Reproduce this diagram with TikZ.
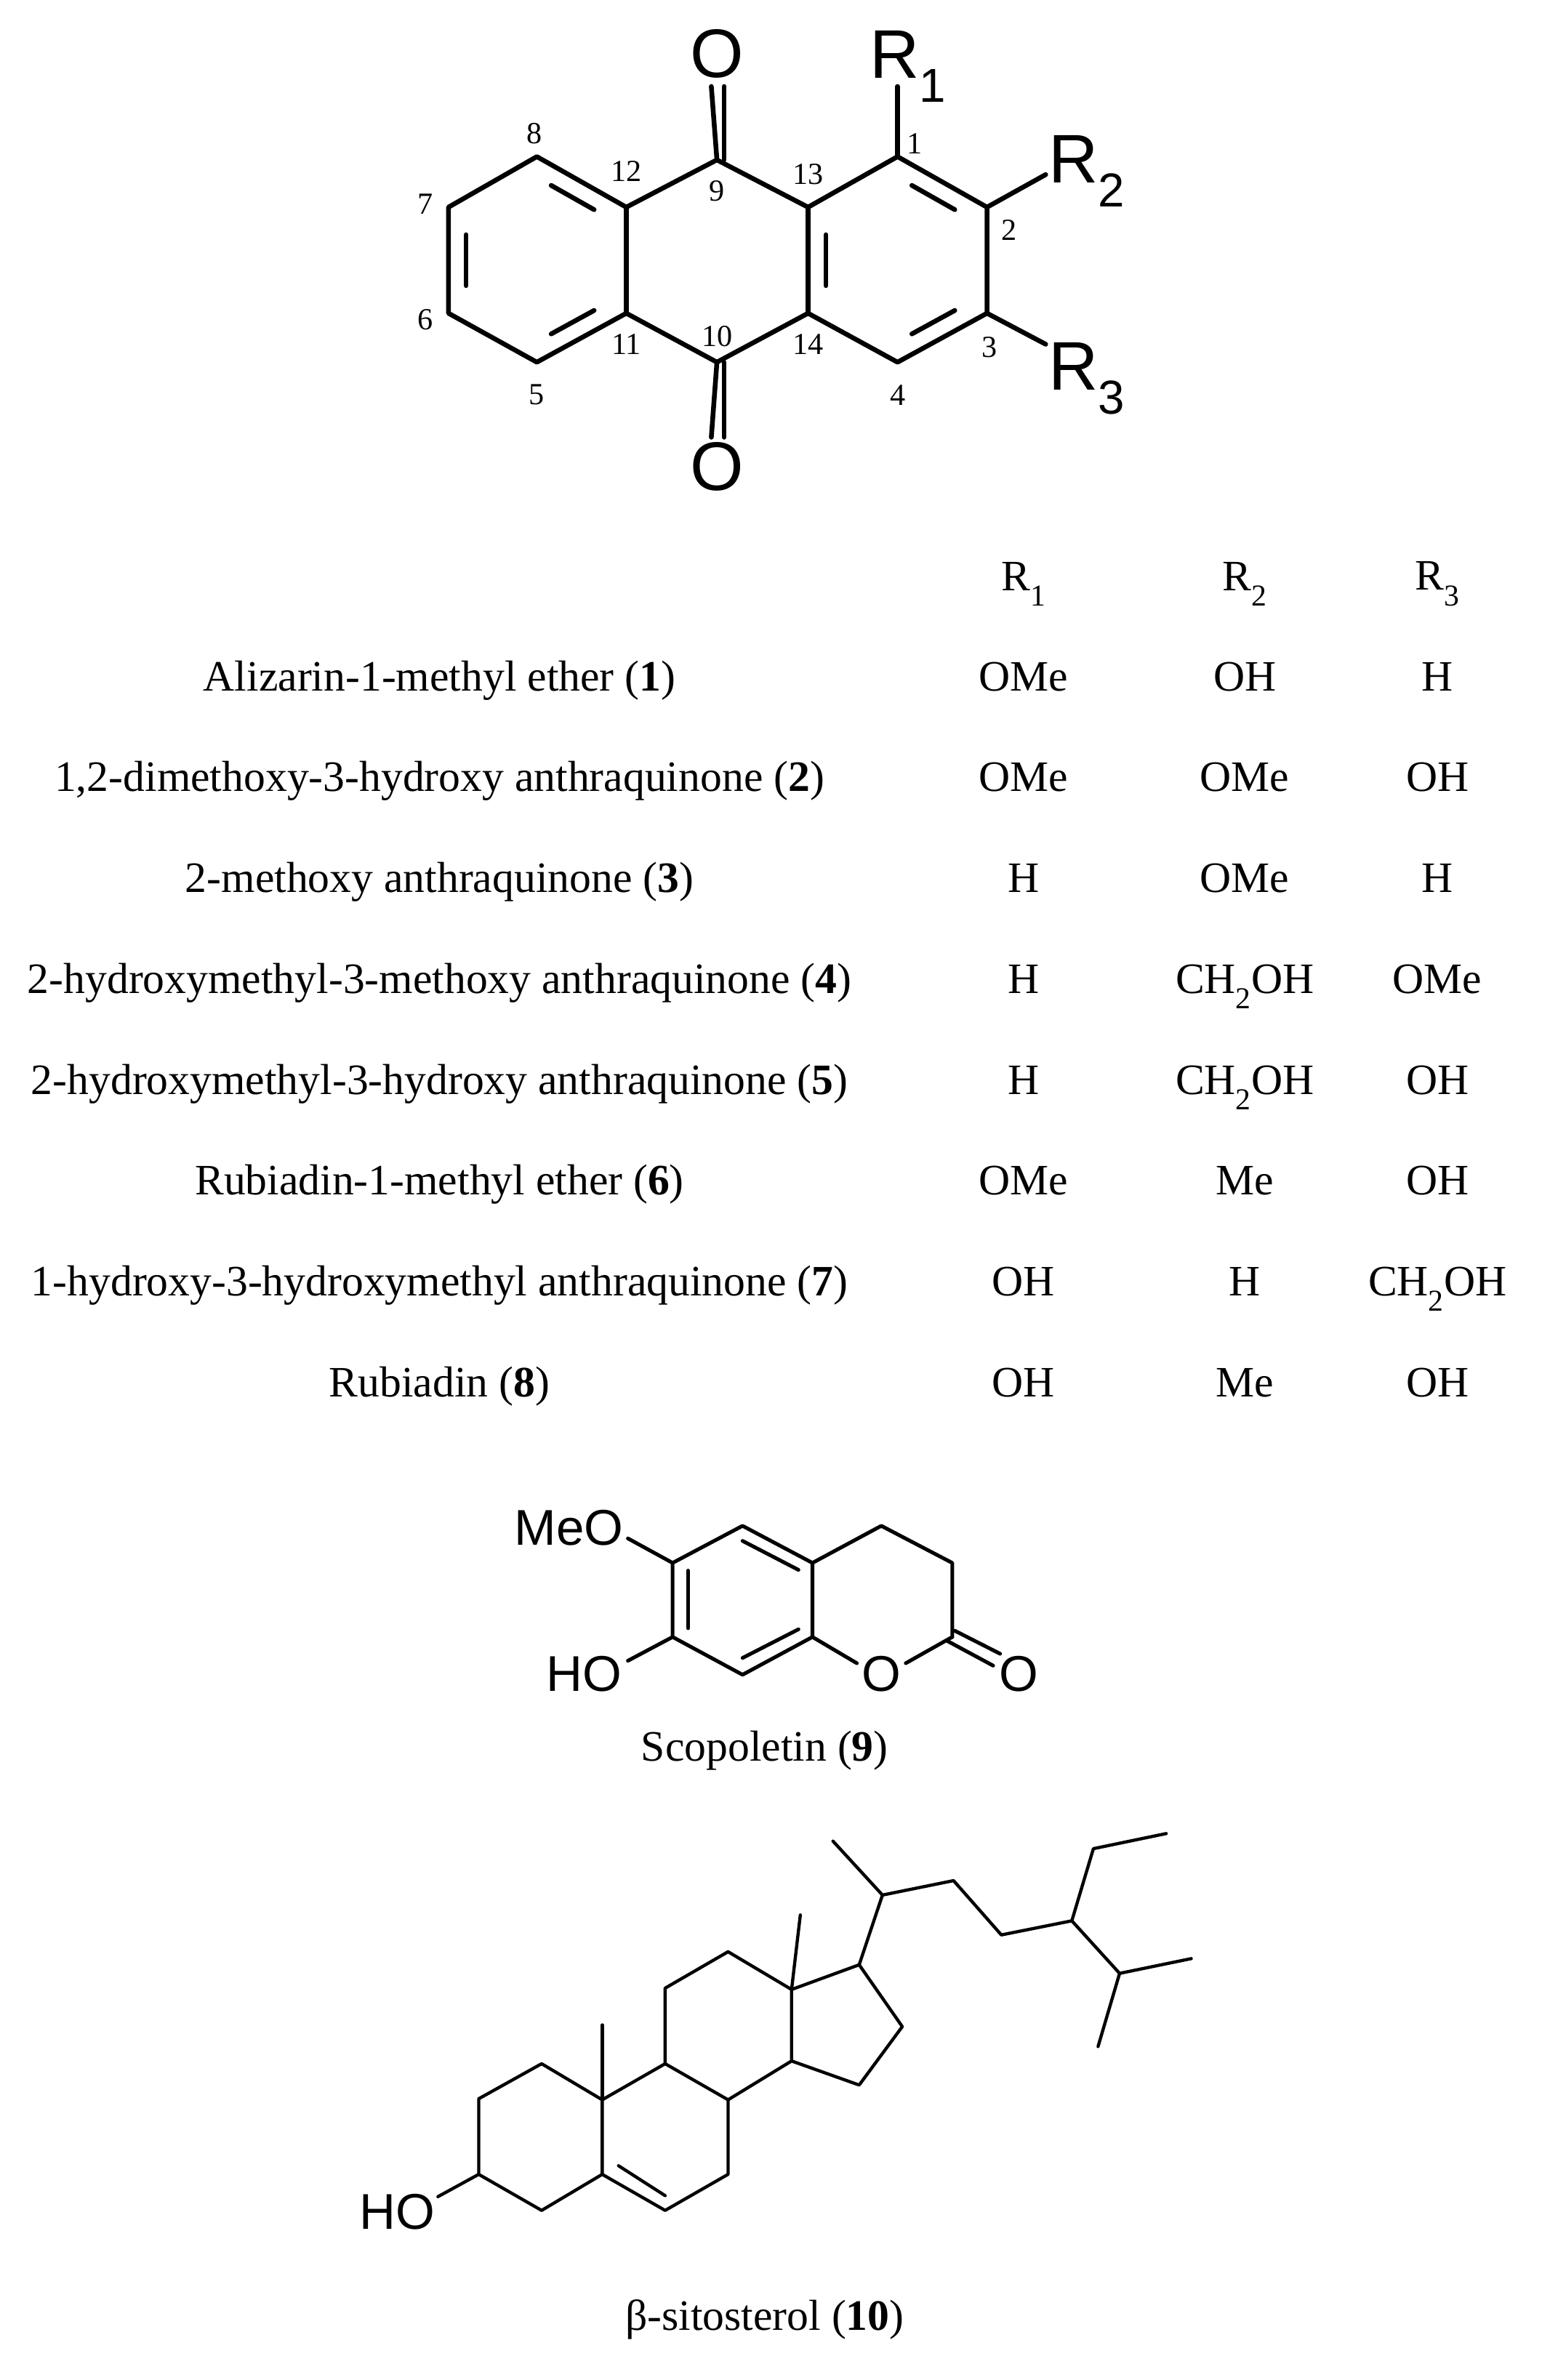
\documentclass[tikz,border=0pt]{standalone}
\usepackage{fontspec}
\setmainfont{Liberation Serif}
\newfontfamily\arial{Liberation Sans}
\usetikzlibrary{calc}
\tikzset{
 bond/.style={line width=9pt, line cap=round, line join=round},
 sbond/.style={line width=7pt, line cap=round, line join=round},
 tbond/.style={line width=6pt, line cap=round, line join=round},
 atom/.style={font=\arial\fontsize{130}{130}\selectfont, inner sep=0pt},
 satom/.style={font=\arial\fontsize{95}{95}\selectfont, inner sep=0pt},
 hatom/.style={font=\arial\fontsize{95}{95}\selectfont, inner sep=0pt},
 num/.style={font=\fontsize{58}{58}\selectfont, inner sep=0pt},
 txt/.style={font=\fontsize{82}{86}\selectfont, inner sep=0pt},
}
\newcommand{\dbond}[4][bond]{\draw[#1] ($(#2)!0.2!(#3)!0.2!(#4)$) -- ($(#3)!0.2!(#2)!0.2!(#4)$);}
\begin{document}
\begin{tikzpicture}[x=0.1cm,y=-0.1cm]
\useasboundingbox[fill=white] (0,0) rectangle (1024,1581.4);
% ---------- anthraquinone ----------
\begin{scope}[shift={(241.5,0)}, x=0.03715cm, y=-0.02168cm]
\coordinate (c8) at (310,480); \coordinate (c12) at (470,635); \coordinate (c9) at (632,490);
\coordinate (c13) at (795,635); \coordinate (c1) at (955,480); \coordinate (c2) at (1115,635);
\coordinate (c3) at (1115,960); \coordinate (c4) at (955,1110); \coordinate (c14) at (795,960);
\coordinate (c10) at (632,1110); \coordinate (c11) at (470,960); \coordinate (c5) at (310,1110);
\coordinate (c6) at (152,960); \coordinate (c7) at (152,635);
\coordinate (ml) at (310,797); \coordinate (mm) at (632,797); \coordinate (mr) at (955,797);
\draw[bond] (c8)--(c12)--(c9)--(c13)--(c1)--(c2)--(c3)--(c4)--(c14)--(c10)--(c11)--(c5)--(c6)--(c7)--cycle;
\draw[bond] (c12)--(c11); \draw[bond] (c13)--(c14);
\dbond{c8}{c12}{ml} \dbond{c7}{c6}{ml} \dbond{c5}{c11}{ml}
\dbond{c13}{c14}{mr} \dbond{c1}{c2}{mr} \dbond{c3}{c4}{mr}
\draw[bond] (c9) -- (622,265); \draw[bond] (645,490) -- (645,265);
\draw[bond] (c10) -- (622,1340); \draw[bond] (645,1110) -- (645,1340);
\coordinate (r1e) at (955,265); \coordinate (r2e) at (1220,535); \coordinate (r3e) at (1220,1055);
\draw[bond] (c1)--(r1e); \draw[bond] (c2)--(r2e); \draw[bond] (c3)--(r3e);
\node[atom] (o9) at (632,165) {O};
\node[atom] (o10) at (632,1430) {O};
\node[atom, anchor=base west] (r1) at (905,240) {R\raisebox{-0.35em}{\fontsize{90}{90}\selectfont 1}};
\node[atom, anchor=base west] (r2) at (1225,560) {R\raisebox{-0.35em}{\fontsize{90}{90}\selectfont 2}};
\node[atom, anchor=base west] (r3) at (1225,1195) {R\raisebox{-0.35em}{\fontsize{90}{90}\selectfont 3}};
\node[num] (n8) at (305,410) {8}; \node[num] (n12) at (470,525) {12}; \node[num] (n9) at (632,585) {9};
\node[num] (n13) at (795,535) {13}; \node[num] (n1) at (985,440) {1}; \node[num] (n7) at (110,625) {7};
\node[num] (n2) at (1155,705) {2}; \node[num] (n6) at (110,980) {6}; \node[num] (n11) at (470,1055) {11};
\node[num] (n10) at (632,1030) {10}; \node[num] (n14) at (795,1055) {14}; \node[num] (n3) at (1120,1065) {3};
\node[num] (n5) at (310,1210) {5}; \node[num] (n4) at (955,1210) {4};
\end{scope}
% ---------- table ----------
\node[txt] (h1) at (680,388) {R\textsubscript{1}};
\node[txt] (h2) at (827,388) {R\textsubscript{2}};
\node[txt] (h3) at (955,388) {R\textsubscript{3}};
\foreach \y/\n/\a/\b/\c [count=\i] in {
452/{Alizarin-1-methyl ether (\textbf{1})}/OMe/OH/H,
519/{1,2-dimethoxy-3-hydroxy anthraquinone (\textbf{2})}/OMe/OMe/OH,
586/{2-methoxy anthraquinone (\textbf{3})}/H/OMe/H,
653/{2-hydroxymethyl-3-methoxy anthraquinone (\textbf{4})}/H/{CH\textsubscript{2}OH}/OMe,
720/{2-hydroxymethyl-3-hydroxy anthraquinone (\textbf{5})}/H/{CH\textsubscript{2}OH}/OH,
787/{Rubiadin-1-methyl ether (\textbf{6})}/OMe/Me/OH,
854/{1-hydroxy-3-hydroxymethyl anthraquinone (\textbf{7})}/OH/H/{CH\textsubscript{2}OH},
921/{Rubiadin (\textbf{8})}/OH/Me/OH}{
 \node[txt, anchor=base] (name\i) at (292,\y+7) {\n};
 \node[txt, anchor=base] (va\i) at (680,\y+7) {\a};
 \node[txt, anchor=base] (vb\i) at (827,\y+7) {\b};
 \node[txt, anchor=base] (vc\i) at (955,\y+7) {\c};
}
% ---------- scopoletin ----------
\begin{scope}[shift={(338.2,953)}, x=0.02323cm, y=-0.02323cm]
\coordinate (sa) at (668,262); \coordinate (sb) at (868,368); \coordinate (sc) at (868,580);
\coordinate (sd) at (668,688); \coordinate (se) at (468,580); \coordinate (sf) at (468,368);
\coordinate (sg) at (1065,262); \coordinate (sh) at (1268,368); \coordinate (si) at (1268,580);
\draw[sbond] (sa)--(sb)--(sc)--(sd)--(se)--(sf)--cycle;
\draw[sbond] (sb)--(sg)--(sh)--(si);
\draw[sbond] (668,305)--(828,388); \draw[sbond] (668,640)--(828,558); \draw[sbond] (512,390)--(512,555);
\node[satom, anchor=east] (meo) at (328,268) {MeO};
\node[satom] (ho) at (215,685) {HO};
\node[satom] (ro) at (1065,685) {O};
\node[satom] (co) at (1458,685) {O};
\draw[sbond] (sf)--(340,298); \draw[sbond] (se)--(340,648);
\draw[sbond] (sc)--(995,655); \draw[sbond] (1135,655)--(si);
\draw[sbond] (1255,592)--(1385,662); \draw[sbond] (1275,562)--(1405,628);
\end{scope}
\node[txt] (scl) at (508,1163) {Scopoletin (\textbf{9})};
% ---------- sitosterol ----------
\begin{scope}[shift={(217.4,1148)}, x=0.03871cm, y=-0.02283cm]
\coordinate (a1) at (260,1080); \coordinate (a2) at (368,978); \coordinate (c10s) at (472,1083);
\coordinate (c5s) at (472,1300); \coordinate (a5) at (368,1405); \coordinate (c3s) at (260,1300);
\coordinate (c9s) at (580,978); \coordinate (c8s) at (688,1083); \coordinate (c7s) at (688,1300);
\coordinate (c6s) at (580,1405); \coordinate (c11s) at (580,758); \coordinate (c12s) at (688,652);
\coordinate (c13s) at (797,762); \coordinate (c14s) at (797,970); \coordinate (c17) at (913,690);
\coordinate (c16) at (987,870); \coordinate (c15) at (913,1040);
\coordinate (c20) at (953,487); \coordinate (c21) at (868,330); \coordinate (c22) at (1075,445);
\coordinate (c23) at (1157,603); \coordinate (c24) at (1278,562); \coordinate (c28) at (1315,352);
\coordinate (c29) at (1440,308); \coordinate (c25) at (1360,715); \coordinate (c26) at (1483,672);
\coordinate (c27) at (1323,928); \coordinate (m19) at (472,865); \coordinate (m18) at (812,545);
\coordinate (hoe) at (190,1365);
\draw[tbond] (a1)--(a2)--(c10s)--(c5s)--(a5)--(c3s)--cycle;
\draw[tbond] (c10s)--(c9s)--(c8s)--(c7s)--(c6s)--(c5s);
\draw[tbond] (500,1275)--(580,1362);
\draw[tbond] (c9s)--(c11s)--(c12s)--(c13s)--(c14s)--(c8s);
\draw[tbond] (c13s)--(c17)--(c16)--(c15)--(c14s);
\draw[tbond] (c10s)--(m19); \draw[tbond] (c13s)--(m18);
\draw[tbond] (c17)--(c20)--(c21); \draw[tbond] (c20)--(c22)--(c23)--(c24)--(c28)--(c29);
\draw[tbond] (c24)--(c25)--(c26); \draw[tbond] (c25)--(c27);
\draw[tbond] (c3s)--(hoe);
\node[hatom] (hos) at (120,1410) {HO};
\end{scope}
\node[txt] (sil) at (508,1541) {β-sitosterol (\textbf{10})};
\end{tikzpicture}
\end{document}
